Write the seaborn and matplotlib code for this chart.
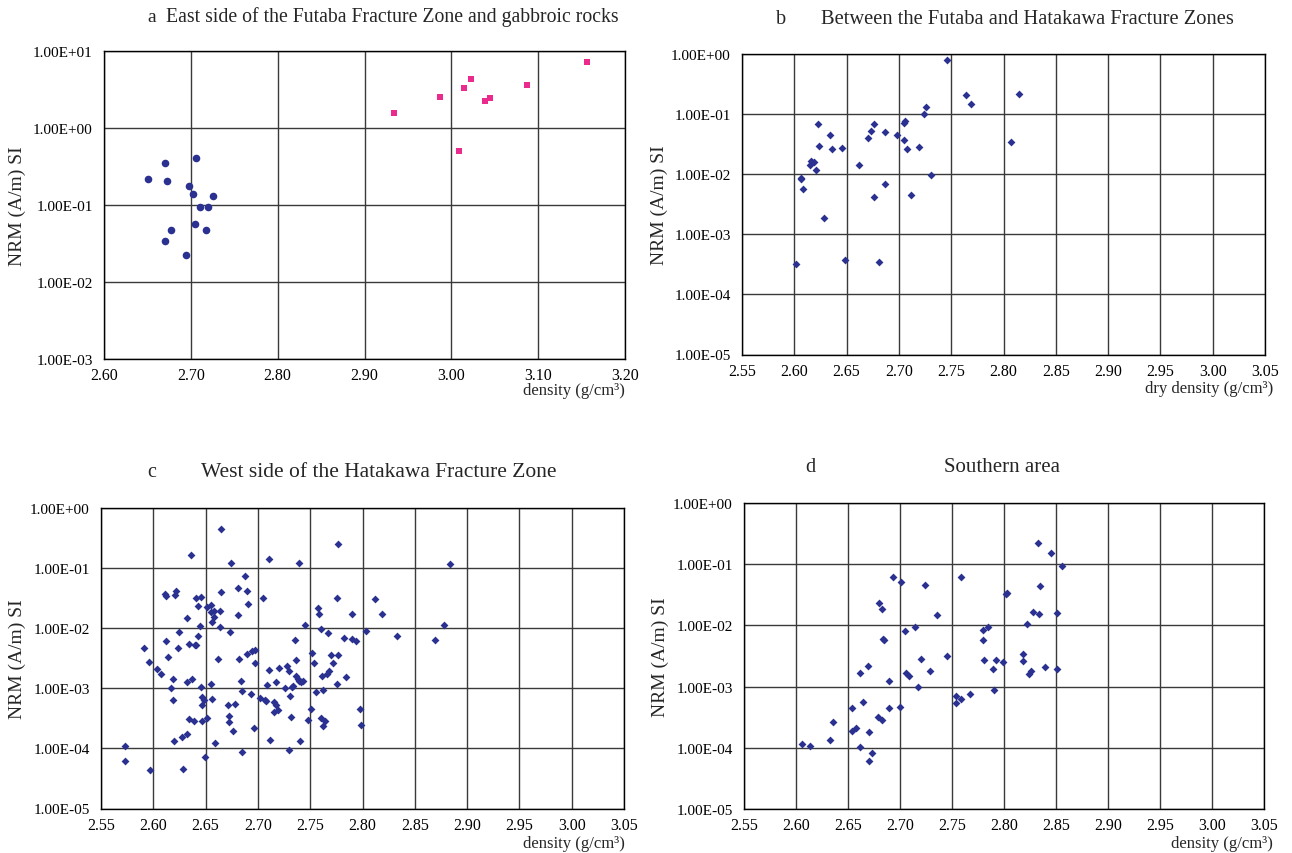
import numpy as np
import seaborn as sns
import matplotlib.pyplot as plt
from matplotlib.ticker import LogLocator, MultipleLocator, NullFormatter, FuncFormatter

# a: East side of the Futaba FZ (basalt, circles) and gabbroic rocks (squares)
a_basalt_density = [2.651, 2.670, 2.673, 2.670, 2.677, 2.694, 2.698, 2.702, 2.706, 2.705,
                    2.710, 2.717, 2.720, 2.726]
a_basalt_nrm = [0.216, 0.352, 0.202, 0.0336, 0.0471, 0.0223, 0.175, 0.138, 0.413, 0.057,
                0.093, 0.0467, 0.093, 0.131]
a_gabbro_density = [2.934, 2.987, 3.009, 3.015, 3.023, 3.039, 3.044, 3.087, 3.156]
a_gabbro_nrm = [1.57, 2.56, 0.509, 3.34, 4.33, 2.27, 2.45, 3.66, 7.2]

# b: between the Futaba and Hatakawa FZs
b_density = [2.602, 2.606, 2.606, 2.608, 2.615, 2.616, 2.619, 2.621, 2.623, 2.624,
             2.628, 2.634, 2.636, 2.646, 2.648, 2.662, 2.670, 2.673, 2.676, 2.676,
             2.681, 2.687, 2.687, 2.698, 2.705, 2.706, 2.705, 2.708, 2.712, 2.719,
             2.724, 2.726, 2.731, 2.746, 2.764, 2.769, 2.807, 2.815]
b_nrm = [3.2e-4, 8.8e-3, 8.3e-3, 5.6e-3, 1.40e-2, 1.69e-2, 1.61e-2, 1.17e-2, 6.96e-2, 2.93e-2,
         1.86e-3, 4.57e-2, 2.58e-2, 2.75e-2, 3.69e-4, 1.45e-2, 3.97e-2, 5.19e-2, 6.96e-2, 4.16e-3,
         3.42e-4, 7.0e-3, 5.06e-2, 4.51e-2, 7.05e-2, 7.8e-2, 3.68e-2, 2.64e-2, 4.43e-3, 2.82e-2,
         0.102, 0.130, 9.8e-3, 0.785, 0.206, 0.146, 3.5e-2, 0.214]

# c: west side of the Hatakawa FZ
c_density = [2.665, 2.636, 2.674, 2.711, 2.739, 2.777, 2.884,
             2.688, 2.611, 2.612, 2.621, 2.622, 2.641, 2.646, 2.643, 2.651, 2.655,
             2.655, 2.658, 2.658, 2.656, 2.632, 2.645, 2.665, 2.664, 2.664, 2.681,
             2.690, 2.691, 2.681, 2.705, 2.745, 2.757, 2.758, 2.776, 2.790, 2.812,
             2.819, 2.878,
             2.591, 2.596, 2.604, 2.607, 2.612, 2.614, 2.624, 2.625, 2.634, 2.640,
             2.641, 2.643, 2.619, 2.617, 2.632, 2.637, 2.646, 2.655, 2.662, 2.673,
             2.682, 2.684, 2.690, 2.694, 2.697, 2.697, 2.711, 2.720, 2.717, 2.709,
             2.728, 2.730, 2.735, 2.736, 2.736, 2.738, 2.739, 2.741, 2.743, 2.726,
             2.733, 2.734, 2.752, 2.754, 2.760, 2.767, 2.761, 2.766, 2.768, 2.770,
             2.772, 2.777, 2.776, 2.782, 2.784, 2.790, 2.794, 2.803, 2.762, 2.756,
             2.833, 2.869,
             2.619, 2.647, 2.648, 2.647, 2.656, 2.671, 2.678, 2.685, 2.693, 2.702,
             2.707, 2.708, 2.715, 2.717, 2.715, 2.719, 2.731, 2.634, 2.639, 2.647,
             2.651, 2.672, 2.672, 2.676, 2.620, 2.627, 2.632, 2.659, 2.696, 2.712,
             2.732, 2.740, 2.748, 2.751, 2.760, 2.764, 2.762, 2.798, 2.799, 2.573,
             2.597, 2.628, 2.649, 2.685, 2.730, 2.573]
c_nrm = [0.445, 0.160, 0.121, 0.138, 0.121, 0.251, 0.115,
         0.0719, 0.0366, 0.0343, 0.0352, 0.0405, 0.0310, 0.0326, 0.0234, 0.0222, 0.0240,
         0.0184, 0.0188, 0.0150, 0.0124, 0.0146, 0.0109, 0.0390, 0.0193, 0.0104, 0.0454,
         0.0405, 0.0253, 0.0162, 0.0310, 0.0113, 0.0214, 0.0170, 0.0314, 0.0170, 0.0306,
         0.0170, 0.0110,
         4.58e-3, 2.75e-3, 2.10e-3, 1.69e-3, 6.05e-3, 3.29e-3, 4.70e-3, 8.55e-3, 5.33e-3, 5.20e-3,
         5.20e-3, 7.24e-3, 1.44e-3, 9.9e-4, 1.25e-3, 1.40e-3, 1.04e-3, 1.16e-3, 3.04e-3, 8.44e-3,
         3.04e-3, 1.31e-3, 3.64e-3, 4.08e-3, 4.30e-3, 2.64e-3, 1.97e-3, 2.16e-3, 1.28e-3, 1.14e-3,
         2.30e-3, 1.95e-3, 6.21e-3, 2.89e-3, 1.59e-3, 1.42e-3, 1.31e-3, 1.25e-3, 1.31e-3, 9.9e-4,
         1.03e-3, 1.10e-3, 3.78e-3, 2.64e-3, 9.7e-3, 8.1e-3, 1.59e-3, 1.69e-3, 1.95e-3, 3.55e-3,
         2.64e-3, 3.55e-3, 1.17e-3, 6.7e-3, 1.55e-3, 6.46e-3, 6.14e-3, 9.0e-3, 9.2e-4, 8.7e-4,
         7.33e-3, 6.37e-3,
         6.3e-4, 7.0e-4, 6.3e-4, 5.2e-4, 6.6e-4, 5.2e-4, 5.4e-4, 8.8e-4, 8.1e-4, 6.8e-4,
         6.3e-4, 6.2e-4, 5.9e-4, 5.2e-4, 3.95e-4, 4.27e-4, 7.4e-4, 3.07e-4, 2.88e-4, 2.81e-4,
         3.19e-4, 3.40e-4, 2.77e-4, 1.96e-4, 1.34e-4, 1.54e-4, 1.73e-4, 1.21e-4, 2.17e-4, 1.36e-4,
         3.31e-4, 1.31e-4, 2.92e-4, 4.44e-4, 3.15e-4, 2.88e-4, 2.35e-4, 4.44e-4, 2.44e-4, 1.08e-4,
         4.4e-5, 4.6e-5, 7.1e-5, 8.6e-5, 9.2e-5, 6.1e-5]

# d: southern area
d_density = [2.606, 2.613, 2.633, 2.636, 2.654, 2.654, 2.658, 2.662, 2.664, 2.662,
             2.669, 2.670, 2.673, 2.670, 2.679, 2.683, 2.680, 2.683, 2.684, 2.685,
             2.689, 2.689, 2.693, 2.701, 2.700, 2.705, 2.706, 2.709, 2.714, 2.717,
             2.720, 2.724, 2.729, 2.736, 2.745, 2.754, 2.754, 2.759, 2.759, 2.767,
             2.780, 2.780, 2.781, 2.785, 2.789, 2.790, 2.792, 2.799, 2.802, 2.803,
             2.818, 2.818, 2.822, 2.824, 2.826, 2.828, 2.833, 2.834, 2.835, 2.839,
             2.845, 2.851, 2.851, 2.856]
d_nrm = [1.17e-4, 1.08e-4, 1.32e-4, 2.67e-4, 4.4e-4, 1.9e-4, 2.08e-4, 1.65e-3, 5.5e-4, 1.02e-4,
         2.14e-3, 1.79e-4, 8.3e-5, 6.2e-5, 3.19e-4, 2.88e-4, 2.35e-2, 1.85e-2, 5.9e-3, 5.8e-3,
         1.25e-3, 4.5e-4, 6.1e-2, 5.1e-2, 4.6e-4, 8.2e-3, 1.65e-3, 1.51e-3, 9.5e-3, 9.7e-4,
         2.86e-3, 4.57e-2, 1.82e-3, 1.48e-2, 3.12e-3, 7.1e-4, 5.4e-4, 6.18e-2, 6.3e-4, 7.5e-4,
         8.3e-3, 5.7e-3, 2.75e-3, 9.5e-3, 1.91e-3, 8.9e-4, 2.72e-3, 2.49e-3, 3.3e-2, 3.38e-2,
         2.59e-3, 3.41e-3, 1.04e-2, 1.59e-3, 1.78e-3, 1.64e-2, 0.222, 1.54e-2, 4.35e-2, 2.09e-3,
         0.152, 1.94e-3, 1.57e-2, 9.35e-2]

navy = '#2B3190'
pink = '#EA2A8C'

sns.set_style("white")
plt.rcParams['font.family'] = ['Liberation Serif', 'DejaVu Serif']

W, H = 1292, 854
fig = plt.figure(figsize=(W / 100, H / 100), dpi=100)


def add_ax(left, right, top, bottom):
    return fig.add_axes([left / W, 1 - bottom / H, (right - left) / W, (bottom - top) / H])


def style_ax(ax, xlim, xstep, xminor, ylim):
    ax.set_yscale('log')
    ax.set_xlim(*xlim)
    ax.set_ylim(*ylim)
    ax.xaxis.set_major_locator(MultipleLocator(xstep))
    ax.xaxis.set_minor_locator(MultipleLocator(xminor))
    ax.xaxis.set_major_formatter(FuncFormatter(lambda v, p: f"{v:.2f}"))
    ax.yaxis.set_major_locator(LogLocator(base=10, numticks=20))
    ax.yaxis.set_minor_locator(LogLocator(base=10, subs=np.arange(2, 10), numticks=20))
    ax.yaxis.set_major_formatter(FuncFormatter(lambda v, p: f"{v:.2E}"))
    ax.yaxis.set_minor_formatter(NullFormatter())
    ax.grid(True, which='major', color='#3a3a3a', lw=1.0)
    ax.grid(False, which='minor')
    ax.tick_params(which='major', direction='out', length=4, width=1, labelsize=11.5,
                   color='black', labelcolor='black', pad=2)
    ax.tick_params(axis='y', which='major', labelsize=11, pad=4)
    ax.tick_params(which='minor', direction='in', length=3, width=0.8, color='black')
    for s in ax.spines.values():
        s.set_color('black')
        s.set_linewidth(1.0)
    ax.set_xlabel('')
    ax.set_ylabel('')


# panel a
ax_a = add_ax(104, 625, 52, 360)
sns.scatterplot(x=a_basalt_density, y=a_basalt_nrm, ax=ax_a, marker='o', s=30,
                color=navy, edgecolor=navy, linewidth=0, zorder=3)
sns.scatterplot(x=a_gabbro_density, y=a_gabbro_nrm, ax=ax_a, marker='s', s=22,
                color=pink, edgecolor=pink, linewidth=0, zorder=3)
style_ax(ax_a, (2.60, 3.20), 0.1, 0.02, (1e-3, 1e1))

# panel b
ax_b = add_ax(742, 1265, 55, 355.5)
sns.scatterplot(x=b_density, y=b_nrm, ax=ax_b, marker='D', s=16,
                color=navy, edgecolor=navy, linewidth=0, zorder=3)
style_ax(ax_b, (2.55, 3.05), 0.05, 0.01, (1e-5, 1e0))

# panel c
ax_c = add_ax(101, 624, 508.5, 809.5)
sns.scatterplot(x=c_density, y=c_nrm, ax=ax_c, marker='D', s=16,
                color=navy, edgecolor=navy, linewidth=0, zorder=3)
style_ax(ax_c, (2.55, 3.05), 0.05, 0.01, (1e-5, 1e0))

# panel d
ax_d = add_ax(744, 1264, 504, 810)
sns.scatterplot(x=d_density, y=d_nrm, ax=ax_d, marker='D', s=16,
                color=navy, edgecolor=navy, linewidth=0, zorder=3)
style_ax(ax_d, (2.55, 3.05), 0.05, 0.01, (1e-5, 1e0))


def ftext(x, y, s, **kw):
    fig.text(x / W, 1 - y / H, s, **kw)


# panel titles (letter + caption)
ftext(147, 17, 'a', fontsize=14, va='center')
ftext(166, 17, 'East side of the Futaba Fracture Zone and gabbroic rocks', fontsize=14.2, va='center')
ftext(776, 20, 'b', fontsize=14.5, va='center')
ftext(821, 20, 'Between the Futaba and Hatakawa Fracture Zones', fontsize=14.8, va='center')
ftext(147, 473, 'c', fontsize=14.5, va='center')
ftext(201, 473, 'West side of the Hatakawa Fracture Zone', fontsize=15.5, va='center')
ftext(805, 468, 'd', fontsize=14.5, va='center')
ftext(944, 468, 'Southern area', fontsize=15, va='center')

# axis labels
for x, y in [(17, 206), (659, 205), (17, 659), (660, 657)]:
    ftext(x, y, 'NRM (A/m) SI', fontsize=14, rotation=90, va='center', ha='center')
ftext(625, 391, 'density (g/cm³)', fontsize=12, ha='right', va='center')
ftext(1273, 389, 'dry density (g/cm³)', fontsize=12, ha='right', va='center')
ftext(625, 844, 'density (g/cm³)', fontsize=12, ha='right', va='center')
ftext(1273, 844, 'density (g/cm³)', fontsize=12, ha='right', va='center')

fig.savefig('out.png', dpi=100)
